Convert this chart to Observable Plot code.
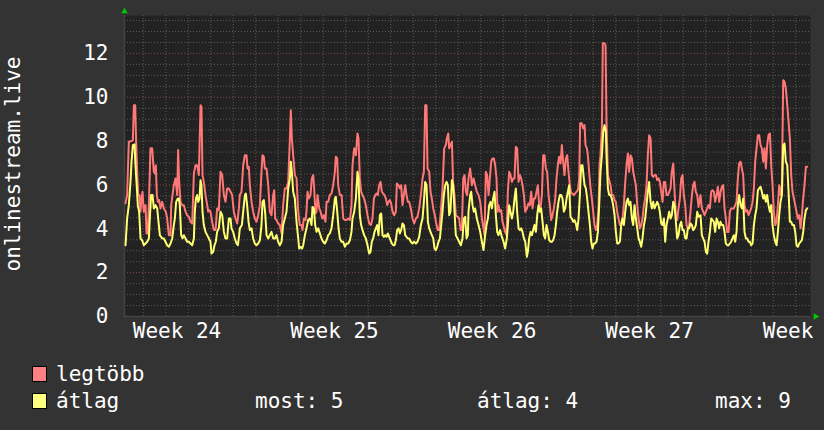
<!DOCTYPE html>
<html><head><meta charset="utf-8">
<script src="https://cdn.jsdelivr.net/npm/d3@7"></script>
<script src="https://cdn.jsdelivr.net/npm/@observablehq/plot@0.6"></script>
<style>
html,body{margin:0;padding:0;background:#333333;width:824px;height:430px;overflow:hidden;}
#chart svg{display:block;}
</style></head><body><div id="chart"></div><script>
// ---- data (time in hours since the left edge of the graph) ----
const yTitle = "onlinestream.live";
const weekLabels = ["Week 24", "Week 25", "Week 26", "Week 27", "Week 28"];
const firstWeekStartHour = 140;   // Monday 00:00 of week 25
const spanHours = 731.7;
const yMax = 13.73;
const yTicks = [0, 2, 4, 6, 8, 10, 12];
const legendNames = ["legtöbb", "átlag"];
const statLabels = ["most: 5", "átlag: 4", "max: 9"];

const maxSeries = [
[1.1,5.16],[2.8,5.54],[4.6,7.97],[7.1,8.0],[8.9,8.05],[10.0,9.64],[11.4,9.64],[12.4,7.97],[13.5,6.6],[14.6,5.54],[16.0,5.54],[17.1,4.78],[18.1,5.38],[19.2,5.69],[20.6,4.78],[22.4,5.08],[23.5,3.79],[24.9,3.79],[26.3,5.54],[27.7,7.67],[29.5,7.67],[31.3,6.6],[32.4,6.52],[33.4,6.9],[34.5,5.54],[35.6,5.23],[37.0,5.31],[38.4,4.93],[40.2,5.23],[42.0,4.93],[44.1,4.78],[45.5,4.47],[47.3,3.71],[49.1,3.71],[49.8,5.08],[51.2,5.54],[52.6,5.99],[54.4,6.3],[56.2,5.54],[57.2,7.59],[58.3,6.14],[59.7,5.23],[61.5,5.08],[63.3,5.08],[65.1,4.78],[66.8,4.62],[68.6,4.55],[70.4,4.32],[72.2,4.24],[74.0,6.52],[75.7,6.9],[77.5,6.9],[79.3,6.45],[81.1,9.64],[82.1,9.57],[83.2,6.45],[84.6,6.14],[86.4,5.54],[88.2,5.08],[89.2,4.78],[90.3,4.85],[91.7,4.78],[93.5,4.32],[95.3,3.94],[97.1,3.94],[98.8,4.93],[100.6,4.85],[102.4,6.6],[104.2,6.45],[106.0,5.54],[107.7,5.23],[109.5,5.84],[111.3,5.84],[113.1,5.69],[114.8,5.54],[116.6,4.78],[118.4,4.47],[120.2,4.24],[122.0,4.93],[123.0,5.54],
[124.8,5.69],[126.6,6.9],[128.4,7.36],[130.1,7.36],[131.2,6.75],[132.6,6.83],[133.7,5.99],[135.5,5.23],[137.2,4.78],[139.0,4.47],[140.8,4.32],[142.6,4.62],[144.4,5.08],[146.1,6.6],[147.2,7.36],[148.6,7.29],[149.7,6.75],[151.5,6.75],[153.3,5.99],[155.0,4.78],[156.8,4.62],[158.6,5.54],[159.7,5.76],[160.7,4.47],[162.1,4.40],[163.9,4.24],[165.7,4.17],[167.5,3.79],[169.2,5.08],[171.0,5.84],[172.8,5.84],[174.6,6.14],[176.4,8.12],[177.4,9.41],[178.5,8.12],[179.9,7.36],[181.7,6.45],[183.5,6.3],[185.3,4.78],[187.0,4.17],[188.8,4.17],[189.9,3.94],[191.3,4.47],[193.1,4.40],[194.1,4.78],[195.2,5.69],[196.6,5.38],[198.4,5.54],[199.8,6.3],[201.3,6.45],[202.3,5.84],[203.7,4.70],[204.8,4.78],[205.9,5.54],[207.7,4.93],[209.1,4.78],[210.9,4.47],[212.6,4.62],[214.4,4.32],[215.5,5.23],[217.3,5.23],[219.0,5.54],[220.8,5.61],[222.6,5.99],[224.4,6.6],[225.4,7.29],[226.9,7.21],[227.9,5.99],[229.7,5.54],[231.5,5.54],[233.3,4.47],[235.0,4.40],[236.8,4.40],[238.6,4.47],[240.4,4.40],[242.1,5.08],
[243.2,6.9],[245.0,7.67],[246.8,7.36],[248.5,8.35],[249.6,8.12],[251.0,6.3],[252.4,5.69],[253.9,5.54],[255.6,5.38],[257.4,5.08],[259.2,4.62],[261.0,4.24],[262.8,4.17],[264.5,4.47],[266.0,5.38],[267.4,5.54],[268.8,5.61],[270.2,5.54],[271.6,5.99],[273.1,6.14],[274.5,5.69],[275.9,5.61],[277.3,5.54],[278.8,5.38],[280.2,5.08],[281.6,5.23],[283.0,5.31],[284.4,5.16],[285.9,4.78],[287.6,4.62],[289.4,4.78],[290.5,6.07],[292.3,5.99],[293.7,5.84],[295.1,5.99],[296.5,5.08],[298.0,5.54],[299.4,5.99],[300.8,5.54],[302.2,5.23],[303.6,5.23],[305.4,4.93],[307.2,4.47],[309.0,4.24],[310.8,4.47],[312.5,4.55],[314.3,4.93],[316.1,5.54],[317.9,6.3],[319.3,6.6],[320.7,9.64],[322.1,9.64],[323.2,6.75],[325.0,6.6],[326.4,5.69],[327.8,5.38],[329.3,4.93],[331.0,4.62],[332.8,4.17],[334.2,3.94],[335.7,3.94],[337.4,4.78],[339.2,5.84],[341.0,7.67],[342.8,7.82],[343.8,8.12],[345.3,8.35],[346.3,7.67],[347.7,7.82],[349.2,7.97],[350.6,5.99],[352.0,5.54],[353.4,4.62],[355.2,4.55],[357.0,4.47],[358.4,3.94],[359.8,3.94],[361.3,6.3],[362.7,6.45],[364.1,5.69],[365.5,5.54],
[366.9,6.3],[368.7,6.75],[370.5,5.99],[372.3,6.3],[374.0,5.99],[375.8,5.69],[377.6,5.54],[379.4,5.23],[381.2,4.47],[382.9,4.02],[384.0,3.71],[385.4,6.6],[386.8,6.45],[388.3,5.54],[389.7,6.3],[391.1,7.06],[392.5,7.21],[394.0,7.21],[395.4,6.9],[396.8,6.3],[397.9,4.78],[398.9,5.08],[400.4,4.78],[401.8,4.85],[403.2,4.32],[404.6,4.09],[406.0,3.86],[407.5,3.71],[408.9,5.69],[410.3,6.6],[411.7,6.45],[413.2,6.14],[414.6,6.3],[416.0,6.3],[417.4,7.74],[418.8,7.67],[420.3,6.14],[421.7,6.45],[423.1,6.3],[424.5,5.99],[426.0,5.54],[427.4,4.78],[429.2,4.93],[430.9,5.16],[432.4,5.08],[433.8,5.69],[435.2,4.93],[436.6,5.38],[438.0,5.38],[439.5,5.69],[440.9,5.99],[442.3,5.08],[443.7,4.93],[445.2,5.54],[446.6,7.36],[448.0,7.36],[449.4,6.75],[450.8,6.6],[452.3,5.54],[453.7,5.08],[455.1,4.40],[456.5,4.62],[458.0,4.93],[459.4,5.38],[460.8,6.3],[462.2,6.9],[463.6,7.29],[465.1,6.98],[466.5,7.82],[467.9,7.06],[469.3,6.45],[470.8,7.21],[472.2,7.36],[473.6,6.6],[475.0,5.99],[476.4,5.61],[477.9,5.61],[479.3,5.54],[480.7,5.61],[482.1,5.69],[483.6,5.76],[485.0,6.3],[486.0,8.81],[487.8,8.81],[489.2,8.58],
[490.7,8.73],[491.7,7.82],[493.2,7.67],[494.2,7.36],[495.6,6.6],[497.1,5.84],[498.5,5.38],[499.9,4.78],[501.3,4.17],[502.8,3.94],[504.2,4.17],[505.6,4.93],[506.7,6.9],[507.7,7.36],[509.2,8.58],[510.2,12.46],[512.0,12.46],[513.1,12.38],[514.1,8.88],[515.6,6.45],[517.0,6.22],[518.4,5.99],[519.8,5.54],[521.2,5.54],[522.7,5.31],[524.1,5.23],[525.5,4.78],[526.9,4.47],[528.4,4.17],[529.8,4.24],[531.2,4.47],[532.6,5.08],[534.1,6.14],[535.5,6.9],[536.9,7.44],[538.3,6.6],[539.7,7.36],[541.2,7.21],[542.6,6.6],[544.0,6.3],[545.4,5.99],[546.9,5.08],[548.3,4.47],[549.7,4.02],[551.1,4.17],[552.5,4.47],[554.0,5.08],[555.4,5.38],[556.8,5.99],[558.2,7.36],[559.6,8.27],[561.1,8.12],[562.5,6.45],[563.9,6.37],[565.3,6.45],[566.8,6.45],[568.2,6.22],[569.6,6.3],[571.0,6.14],[572.5,5.69],[573.9,5.23],[575.3,6.14],[576.7,6.14],[578.1,5.54],[579.6,5.54],[581.0,5.69],[582.4,5.84],[583.8,6.6],[585.3,6.98],[586.7,5.69],[588.1,4.62],[589.5,4.40],[590.9,4.93],[592.4,5.38],[593.8,6.3],[595.2,6.45],[596.6,5.54],[598.1,5.08],[599.5,4.17],[600.9,4.02],[602.3,4.17],[603.7,4.78],[605.2,5.54],[606.6,5.99],[608.0,6.14],[609.4,5.69],[610.9,5.54],[612.3,5.00],
[614.4,5.54],[615.8,4.93],[617.2,4.78],[618.7,4.62],[620.1,4.78],[621.5,4.93],[622.9,5.08],[624.4,4.93],[625.8,5.69],[627.2,5.76],[628.6,5.69],[630.0,5.23],[631.5,5.54],[632.9,5.92],[634.3,5.23],[635.7,5.69],[637.2,5.92],[638.6,5.99],[640.0,4.93],[641.4,4.47],[642.8,3.86],[644.3,3.86],[645.7,4.78],[647.1,4.93],[648.5,4.93],[650.0,4.93],[651.4,5.08],[652.8,5.23],[654.2,6.3],[655.6,6.98],[657.1,7.06],[658.5,6.75],[659.9,6.45],[661.3,5.08],[662.8,4.78],[664.2,4.85],[665.6,4.62],[667.0,4.78],[668.4,4.93],[669.9,5.23],[671.3,5.84],[672.7,7.06],[674.1,7.67],[675.6,8.27],[677.0,8.27],[678.4,7.82],[679.8,7.67],[681.3,7.06],[682.7,7.67],[684.1,6.75],[685.5,7.82],[686.9,8.27],[688.4,8.35],[689.8,6.9],[691.2,5.99],[692.6,4.78],[694.1,4.17],[695.5,4.32],[696.9,5.08],[698.3,5.99],[699.7,5.54],[701.2,5.99],[702.6,10.78],[704.0,10.71],[705.4,10.40],[706.9,9.64],[708.3,8.88],[709.7,8.12],[711.1,6.45],[712.5,5.69],[714.0,5.38],[715.4,5.08],[716.8,4.78],[718.2,4.47],[719.7,4.62],[721.1,4.02],[722.5,4.62],[723.9,5.38],[725.3,5.99],[726.8,6.83],[728.2,6.83]
];

const avgSeries = [
[1.1,3.25],[2.8,4.47],[4.6,5.08],[6.4,6.14],[7.5,7.06],[8.9,7.82],[10.7,7.85],[11.7,6.9],[12.8,6.14],[14.2,5.08],[15.6,4.78],[17.1,3.56],[18.8,3.48],[20.6,3.25],[22.4,3.33],[24.2,3.41],[26.0,3.56],[27.0,4.47],[28.4,5.54],[29.9,5.54],[31.3,4.93],[33.1,5.08],[34.9,4.93],[35.9,4.47],[37.7,3.71],[40.2,3.56],[42.0,3.56],[43.7,3.41],[45.5,3.25],[47.3,3.18],[49.1,3.33],[50.9,3.56],[52.6,4.17],[53.7,4.47],[55.1,5.23],[56.9,5.38],[58.0,5.38],[59.0,5.08],[60.4,3.71],[61.9,3.56],[63.3,3.71],[65.1,3.56],[66.8,3.41],[68.6,3.41],[70.4,3.33],[72.2,3.25],[74.0,3.56],[75.0,4.78],[76.1,5.38],[77.5,5.54],[78.6,5.23],[80.0,5.38],[81.1,6.22],[82.1,5.99],[83.2,4.78],[84.6,4.17],[86.4,3.86],[88.2,3.71],[90.0,3.56],[91.7,3.41],[92.8,2.87],[94.6,2.95],[96.0,3.25],[97.4,3.41],[98.8,3.86],[100.6,4.02],[102.4,4.78],[104.2,4.62],[106.0,3.86],[107.7,3.56],[109.5,3.56],[111.3,4.47],[113.1,4.47],[114.1,4.02],[115.9,3.86],[117.7,3.56],[119.5,3.33],[120.9,3.25],[122.3,3.71],[123.0,4.02],
[125.2,4.17],[126.6,4.78],[128.4,5.54],[129.4,5.61],[130.8,5.08],[132.3,4.32],[133.7,3.94],[135.5,4.02],[137.2,3.56],[139.0,3.33],[140.8,3.25],[142.6,3.33],[144.4,3.48],[146.1,4.17],[147.2,5.23],[148.6,5.31],[150.1,4.70],[151.5,3.71],[153.3,3.56],[155.0,3.71],[156.8,3.86],[158.6,3.56],[160.4,3.56],[162.1,3.71],[163.9,3.41],[165.7,3.25],[167.5,3.41],[169.2,4.17],[171.0,4.47],[172.8,4.78],[174.6,5.84],[176.4,6.3],[177.4,7.06],[178.5,6.6],[179.9,5.69],[181.7,5.38],[183.5,4.32],[185.3,3.56],[186.3,3.10],[187.7,3.18],[189.5,3.10],[190.6,3.25],[192.4,3.71],[194.1,4.02],[195.9,4.40],[197.7,4.47],[199.5,4.17],[200.5,5.00],[202.0,4.93],[203.4,4.17],[204.8,3.86],[206.6,4.02],[208.4,3.79],[210.1,3.56],[211.9,3.41],[213.7,3.33],[215.5,3.48],[217.3,3.71],[219.0,3.79],[220.8,4.02],[222.6,4.62],[224.4,5.38],[225.4,5.46],[226.9,4.78],[228.3,4.02],[229.7,3.56],[231.5,3.41],[233.3,3.41],[235.0,3.18],[236.8,3.33],[238.6,3.33],[240.4,3.48],[242.1,3.86],
[243.2,4.47],[245.0,4.78],[246.8,5.38],[248.5,6.6],[249.6,6.3],[251.0,4.62],[252.4,4.17],[253.9,3.94],[255.6,3.71],[257.4,3.56],[259.2,3.25],[261.0,2.87],[262.4,2.95],[263.8,3.41],[265.2,3.56],[266.7,3.86],[268.1,4.02],[269.5,4.17],[270.9,3.71],[272.4,4.62],[273.8,4.70],[275.2,3.71],[276.6,3.63],[278.0,3.71],[279.5,3.63],[280.9,3.79],[282.3,3.63],[283.7,3.48],[285.2,3.33],[286.6,3.25],[288.0,3.25],[289.4,3.48],[290.8,3.94],[292.3,4.02],[293.7,3.79],[295.1,3.94],[296.5,4.24],[298.0,4.17],[299.4,3.71],[300.8,3.63],[302.2,3.56],[303.6,3.56],[305.4,3.41],[307.2,3.33],[309.0,3.41],[310.8,3.33],[312.5,3.41],[314.3,3.63],[316.1,4.17],[317.9,4.47],[319.3,5.23],[320.7,6.14],[322.1,5.99],[323.6,4.32],[325.0,4.02],[326.4,3.86],[327.8,3.71],[329.3,3.56],[330.7,3.10],[332.1,3.03],[333.5,3.18],[334.9,3.41],[336.4,3.56],[337.8,4.17],[339.2,4.78],[340.6,5.54],[342.1,5.99],[343.5,6.14],[344.9,5.99],[346.3,4.62],[347.7,4.78],[349.2,6.22],[350.6,5.99],[352.0,4.78],[353.4,3.71],[355.2,3.56],[357.0,3.41],[358.8,3.25],[360.5,3.56],[362.0,4.47],[363.4,4.55],[364.8,3.56],[366.2,3.71],
[366.9,4.78],[368.7,5.54],[369.8,5.69],[371.2,5.08],[372.6,4.78],[374.0,4.93],[375.8,4.47],[377.6,4.17],[379.4,3.86],[381.2,3.41],[382.9,3.03],[384.7,3.71],[386.1,4.17],[387.6,4.47],[389.0,5.08],[390.4,5.23],[391.8,4.93],[393.2,5.38],[394.7,5.69],[396.1,4.62],[397.5,3.86],[398.9,3.71],[400.7,3.94],[402.5,3.63],[404.3,3.41],[406.0,3.10],[407.8,3.56],[408.9,4.17],[410.3,5.08],[411.7,4.78],[413.2,4.47],[414.6,4.78],[416.0,5.38],[417.4,5.84],[418.8,4.78],[420.3,4.02],[421.7,3.94],[423.1,4.02],[424.5,3.86],[426.0,3.56],[427.4,3.41],[429.2,2.72],[430.2,2.95],[431.6,3.56],[433.1,3.86],[434.5,3.71],[435.9,3.94],[437.3,4.17],[438.8,3.86],[440.2,4.62],[441.6,5.08],[443.0,4.78],[444.4,4.93],[445.9,4.32],[447.3,3.71],[448.7,3.56],[450.1,4.17],[451.6,3.86],[453.0,3.48],[454.4,3.41],[455.8,3.41],[457.2,3.48],[458.7,3.71],[460.1,4.17],[461.5,4.78],[462.9,5.23],[464.4,5.54],[465.8,5.54],[467.2,5.38],[468.6,4.78],[470.1,4.93],[471.5,5.38],[472.9,5.69],[474.3,5.99],[475.7,4.55],[477.2,4.47],[478.6,4.32],[480.0,4.40],[481.4,4.24],[482.9,3.94],[484.3,4.47],[485.7,5.54],[487.1,6.9],[488.5,6.9],[489.9,6.3],
[490.7,5.99],[492.1,5.84],[493.5,5.38],[494.9,4.78],[496.4,4.17],[497.8,3.41],[499.2,3.10],[500.6,3.33],[502.0,3.33],[503.5,3.41],[504.9,3.86],[506.3,5.08],[507.7,6.6],[509.2,7.36],[510.6,8.43],[512.0,8.73],[513.4,8.43],[514.1,7.36],[515.6,5.84],[517.0,5.54],[518.4,5.54],[519.8,5.38],[521.2,5.08],[522.7,4.62],[524.1,3.86],[525.5,3.33],[526.9,3.33],[528.4,3.41],[529.8,4.17],[531.2,4.47],[532.6,4.17],[534.1,4.78],[535.5,5.23],[536.9,5.38],[538.3,5.08],[539.7,5.23],[541.2,4.47],[542.6,4.17],[544.0,5.08],[545.4,4.47],[546.9,4.02],[548.3,3.56],[549.7,3.41],[551.1,3.18],[552.5,3.56],[554.0,4.17],[555.4,4.47],[556.8,5.08],[558.2,5.69],[559.6,6.14],[561.1,5.23],[562.5,4.93],[563.9,5.23],[565.3,4.93],[566.8,5.08],[568.2,5.23],[569.6,5.08],[571.0,4.78],[572.5,4.24],[573.9,4.17],[575.3,4.47],[576.7,3.41],[578.1,4.17],[579.6,4.47],[581.0,4.78],[582.4,4.47],[583.8,4.62],[585.3,5.23],[586.7,5.08],[588.1,4.32],[589.5,3.56],[590.9,3.71],[592.4,4.17],[593.8,4.32],[595.2,3.94],[596.6,3.94],[598.1,3.56],[599.5,3.56],[600.9,4.02],[602.3,4.02],[603.7,4.24],[605.2,4.17],[606.6,3.94],[608.0,4.02],[609.4,4.17],[610.9,4.78],[612.3,4.55],
[614.4,4.62],[615.8,3.71],[617.2,3.56],[618.7,3.41],[620.1,2.95],[621.5,2.87],[622.9,3.41],[624.4,3.86],[625.8,4.47],[627.2,4.40],[628.6,4.32],[630.0,3.86],[631.5,4.47],[632.9,4.32],[634.3,4.02],[635.7,4.32],[637.2,4.17],[638.6,4.17],[640.0,3.86],[641.4,3.33],[642.8,3.25],[644.3,3.25],[645.7,3.33],[647.1,3.41],[648.5,3.56],[650.0,3.71],[651.4,3.41],[652.8,3.86],[654.2,5.08],[655.6,5.54],[657.1,5.08],[658.5,4.93],[659.9,5.38],[661.3,3.86],[662.8,3.56],[664.2,3.56],[665.6,3.41],[667.0,3.41],[668.4,3.25],[669.9,3.33],[671.3,4.17],[672.7,4.62],[674.1,4.93],[675.6,5.76],[677.0,5.84],[678.4,5.92],[679.8,5.69],[681.3,5.38],[682.7,5.54],[684.1,5.23],[685.5,5.54],[686.9,5.08],[688.4,4.78],[689.8,5.08],[691.2,4.17],[692.6,3.71],[694.1,3.41],[695.5,3.25],[696.9,3.86],[698.3,4.62],[699.7,5.23],[701.2,5.54],[702.6,7.82],[704.0,7.89],[705.4,7.06],[706.9,6.9],[708.3,5.69],[709.7,4.32],[711.1,4.32],[712.5,4.17],[714.0,4.17],[715.4,3.86],[716.8,3.25],[718.2,3.18],[719.7,3.33],[721.1,3.41],[722.5,3.48],[723.9,3.86],[725.3,4.47],[726.8,4.85],[728.2,4.93]
];

// ---- styles ----
const FONT = "'DejaVu Sans Mono', monospace";
const maxColor = "#ff7777", avgColor = "#ffff70";
const legendColors = ["#ff8080", "#ffff80"];
const minorGrid = "#5a5a5a", majorGrid = "#844a4a";

const maxData = maxSeries.map(([h, v]) => ({h, v}));
const avgData = avgSeries.map(([h, v]) => ({h, v}));
const weekLines = d3.range(firstWeekStartHour, spanHours, 168);
const dayLines = d3.range(firstWeekStartHour % 24, spanHours, 24).filter(h => (h - firstWeekStartHour) % 168 !== 0);
const labelHours = weekLabels.map((_, i) => firstWeekStartHour - 84 + 168 * i);
const labelMap = new Map(labelHours.map((h, i) => [h, weekLabels[i]]));
const majorY = d3.range(2, yMax, 2);
const minorY = d3.range(0.5, yMax, 0.5).filter(v => v % 2 !== 0);

const chart = Plot.plot({
  width: 824, height: 345,
  marginTop: 15, marginBottom: 29, marginLeft: 124, marginRight: 14,
  style: {background: "#333333", color: "#ffffff", fontFamily: FONT, fontSize: "21px"},
  x: {domain: [0, spanHours]},
  y: {domain: [0, yMax]},
  marks: [
    Plot.frame({fill: "#222222", stroke: null}),
    Plot.ruleX(dayLines, {stroke: minorGrid, strokeDasharray: "1,2", y1: 0, y2: yMax}),
    Plot.ruleY(minorY, {stroke: minorGrid, strokeDasharray: "1,2"}),
    Plot.ruleX(weekLines, {stroke: majorGrid, strokeDasharray: "1,2", y1: 0, y2: yMax}),
    Plot.ruleY(majorY, {stroke: majorGrid, strokeDasharray: "1,2"}),
    Plot.ruleX([0], {stroke: "#444444", strokeWidth: 1.5}),
    Plot.ruleY([0], {stroke: "#444444", strokeWidth: 1.5}),
    Plot.line(maxData, {x: "h", y: "v", stroke: maxColor, strokeWidth: 2}),
    Plot.line(avgData, {x: "h", y: "v", stroke: avgColor, strokeWidth: 2}),
    Plot.dot([{h: 0, v: yMax}], {x: "h", y: "v", symbol: "triangle", r: 2.4, fill: "#00cc00", stroke: null, dy: -4}),
    Plot.dot([{h: spanHours, v: 0}], {x: "h", y: "v", symbol: "triangle", r: 2.4, fill: "#00cc00", stroke: null, rotate: 90, dx: 5}),
    Plot.axisY({ticks: yTicks, tickSize: 0, tickPadding: 16, label: null, fontSize: 21, fill: "#ffffff"}),
    Plot.axisX({ticks: labelHours, tickFormat: d => labelMap.get(d), tickSize: 0, tickPadding: 7, label: null, fontSize: 21, fill: "#ffffff"}),
    Plot.text([yTitle], {text: d => d, frameAnchor: "left", rotate: -90, lineAnchor: "bottom", textAnchor: "middle", dx: -105, dy: -2, fontSize: 21, fill: "#ffffff"})
  ]
});
document.getElementById("chart").appendChild(chart);

// ---- legend below the chart ----
const leg = d3.create("svg").attr("width", 824).attr("height", 85)
  .style("display", "block").style("font-family", FONT).style("font-size", "21px");
legendNames.forEach((name, i) => {
  leg.append("rect").attr("x", 32.5).attr("y", 21.5 + 27 * i).attr("width", 14).attr("height", 15)
    .attr("fill", legendColors[i]).attr("stroke", "#000");
  leg.append("text").attr("x", 56).attr("y", 36 + 27 * i).attr("fill", "#fff").text(name);
});
const statX = [255, 477, 715];
statLabels.forEach((s, i) => {
  leg.append("text").attr("x", statX[i]).attr("y", 63).attr("fill", "#fff").text(s);
});
document.getElementById("chart").appendChild(leg.node());
</script></body></html>
